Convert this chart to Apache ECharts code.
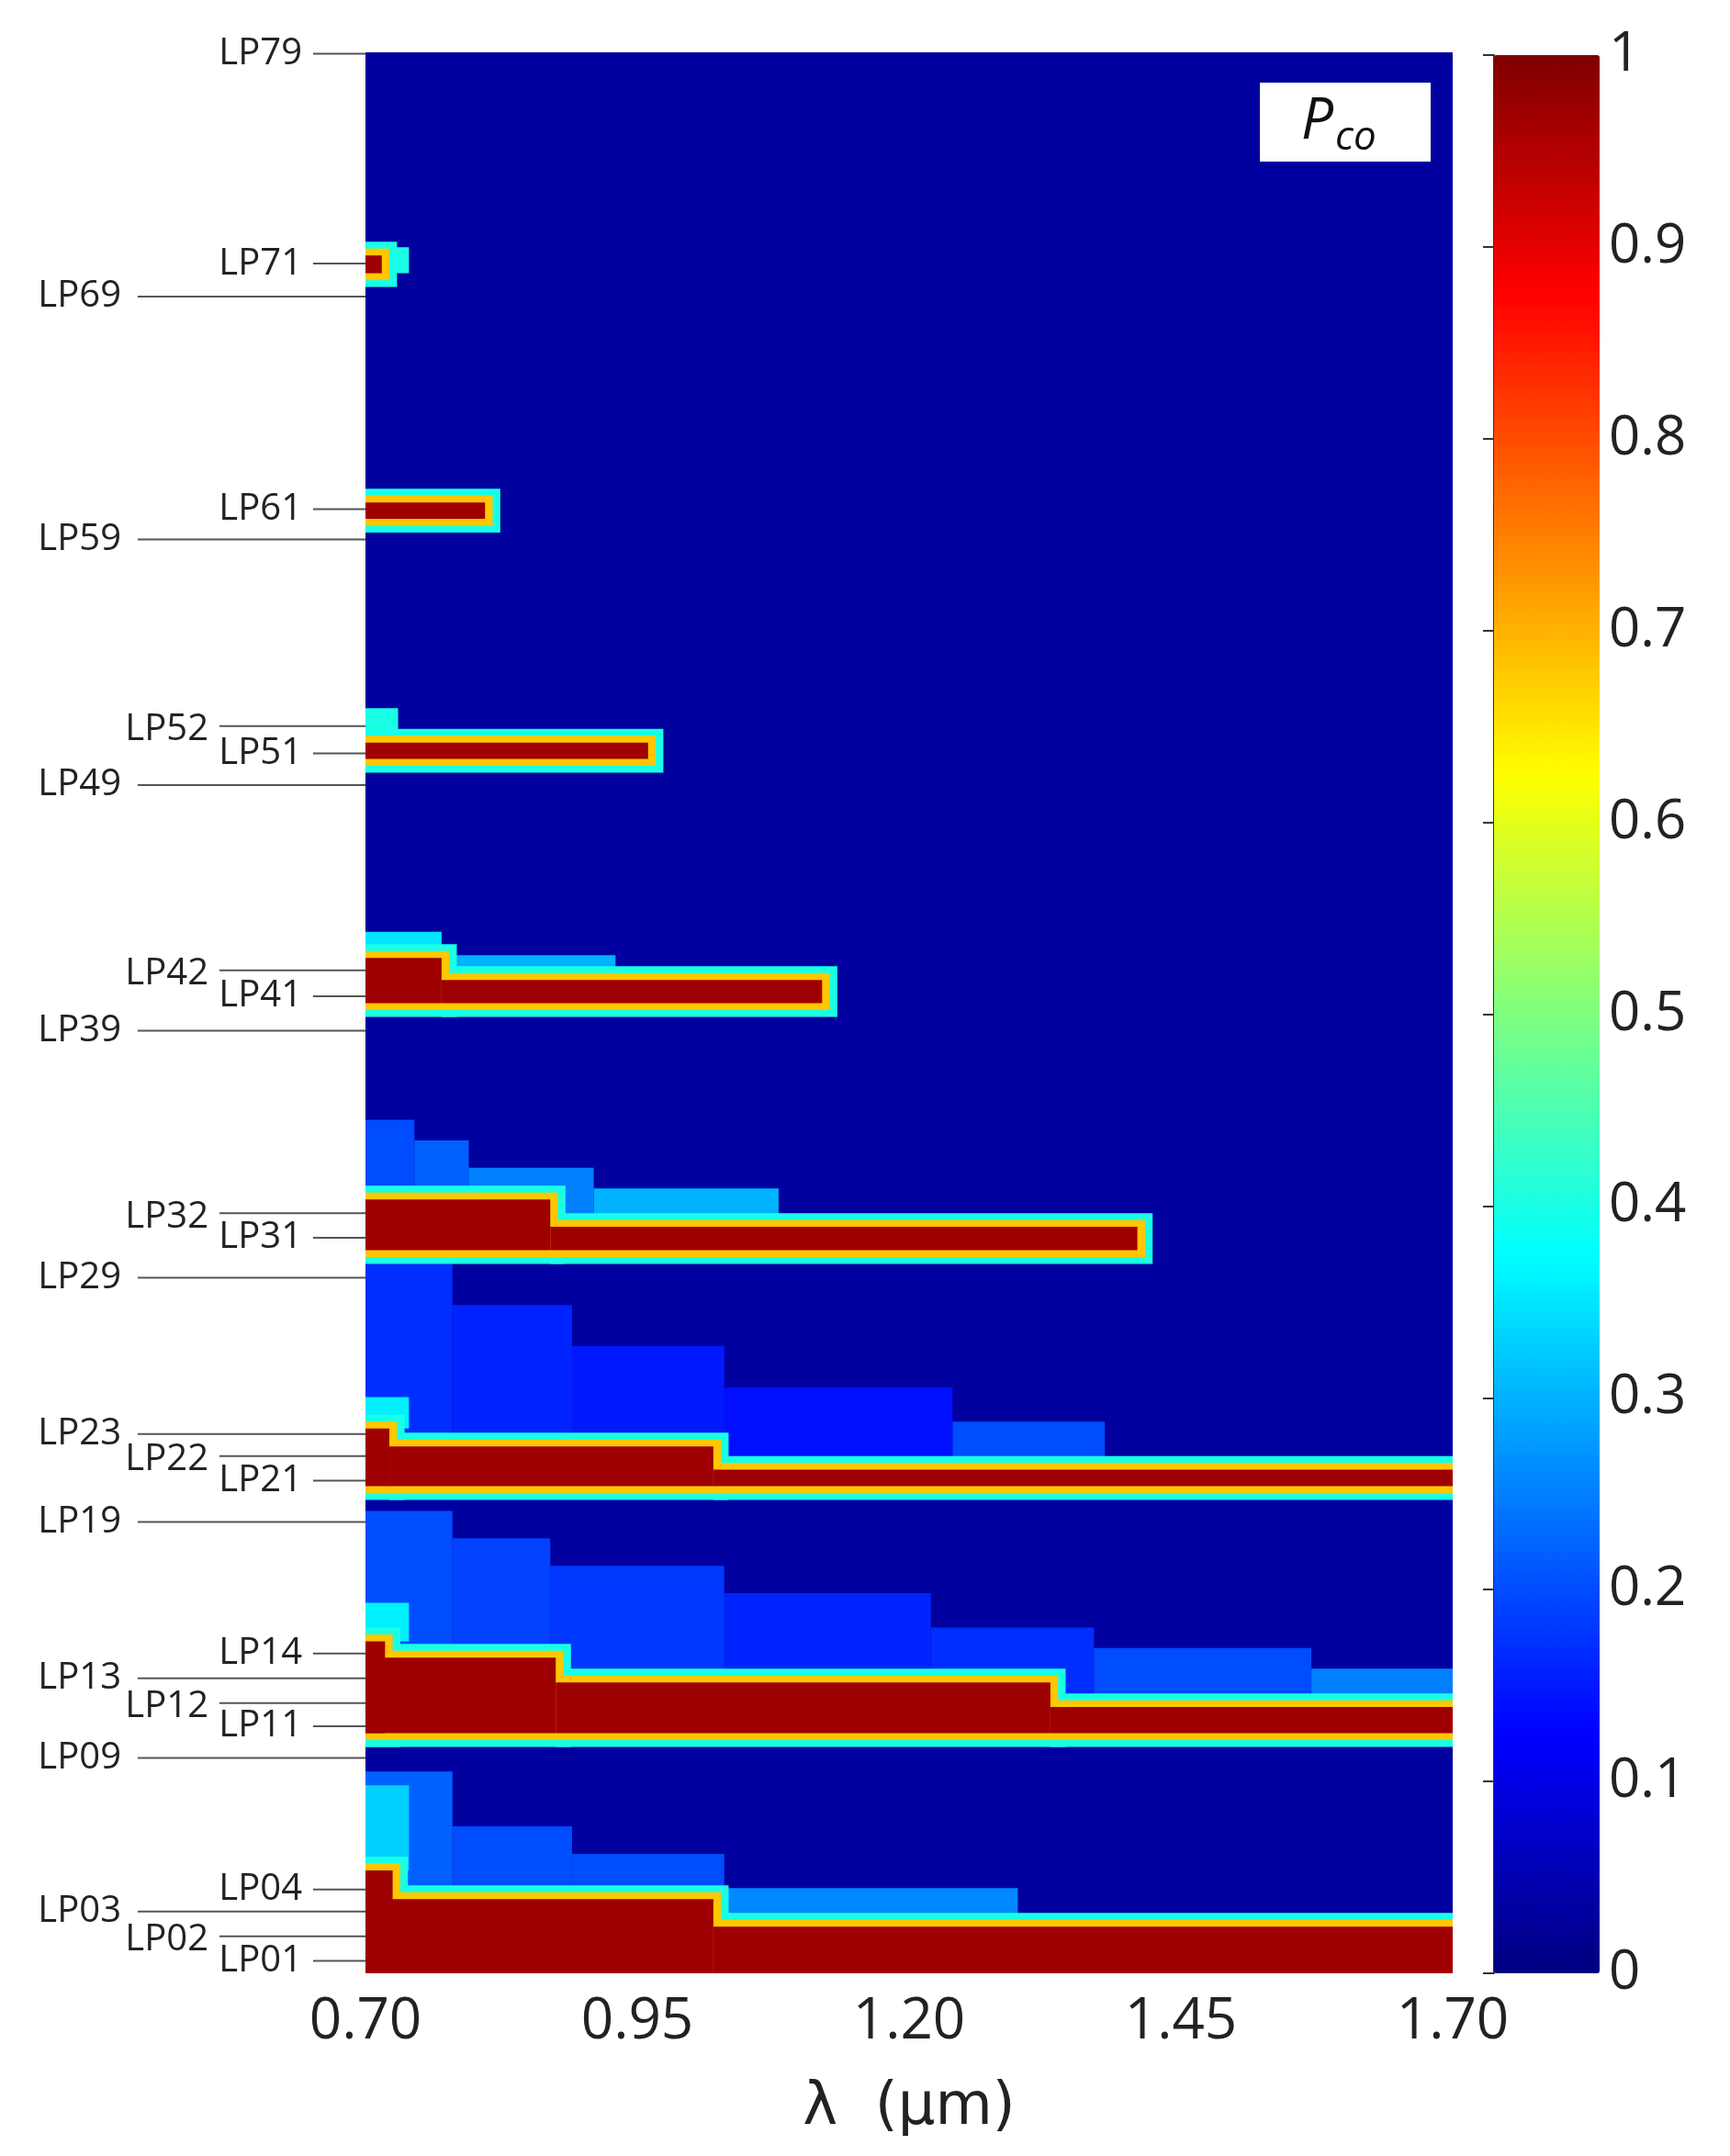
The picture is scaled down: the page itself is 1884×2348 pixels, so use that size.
<!DOCTYPE html>
<html>
<head>
<meta charset="utf-8">
<script src="https://cdn.jsdelivr.net/npm/echarts@6/dist/echarts.min.js"></script>
<style>
  html, body { margin: 0; padding: 0; background: #fff; }
  #main { width: 1884px; height: 2348px; }
</style>
</head>
<body>
<div id="main"></div>
<script>
// wavelength ticks
var xTicks = [0.70, 0.95, 1.20, 1.45, 1.70];
// mode labels and their position on the vertical scale (0 = bottom, 1400 = top)
var modeNames = ['LP79', 'LP71', 'LP69', 'LP61', 'LP59', 'LP52', 'LP51', 'LP49', 'LP42', 'LP41', 'LP39',
    'LP32', 'LP31', 'LP29', 'LP23', 'LP22', 'LP21', 'LP19', 'LP14', 'LP13', 'LP12', 'LP11', 'LP09',
    'LP04', 'LP03', 'LP02', 'LP01'];
var modePos = [1399, 1246, 1222, 1067, 1045, 909, 889, 866, 731, 712, 687,
    554, 536, 507, 393, 377, 359, 329, 233, 215, 197, 180, 157,
    61, 45, 27, 9];
// label column: 0 next to axis, 1 middle, 2 far left
var modeCol = [0, 0, 2, 0, 2, 1, 0, 2, 1, 0, 2,
    1, 0, 2, 2, 1, 0, 2, 0, 2, 1, 0, 2,
    0, 2, 1, 0];

// regions of weak coupling (halo): [uBottom, uTop, lambdaStart, lambdaEnd, Pco]
var haloBands = [
    [0, 1400, 0.70, 1.70, 0.03],
    // LP0x group
    [54, 147, 0.70, 0.78, 0.22], [54, 107, 0.78, 0.89, 0.2], [54, 87, 0.89, 1.03, 0.2],
    [34, 62, 1.03, 1.30, 0.26], [75, 137, 0.70, 0.74, 0.33],
    // LP1x group
    [175, 337, 0.70, 0.78, 0.2], [175, 317, 0.78, 0.87, 0.19], [175, 297, 0.87, 1.03, 0.18],
    [175, 277, 1.03, 1.22, 0.16], [175, 252, 1.22, 1.37, 0.17], [175, 237, 1.37, 1.57, 0.2],
    [175, 222, 1.57, 1.70, 0.25], [242, 270, 0.70, 0.74, 0.36],
    // LP2x group
    [355, 517, 0.70, 0.78, 0.17], [355, 487, 0.78, 0.89, 0.16], [355, 457, 0.89, 1.03, 0.15],
    [355, 427, 1.03, 1.24, 0.14], [355, 402, 1.24, 1.38, 0.2], [397, 420, 0.70, 0.74, 0.36],
    // LP3x group
    [527, 622, 0.70, 0.745, 0.2], [527, 607, 0.745, 0.795, 0.22], [527, 587, 0.795, 0.91, 0.25],
    [527, 572, 0.91, 1.08, 0.3],
    // LP4x group
    [707, 759, 0.70, 0.77, 0.35], [707, 742, 0.77, 0.93, 0.3],
    // LP52
    [902, 922, 0.70, 0.73, 0.4], [1239, 1258, 0.70, 0.74, 0.4]
];
// strongly coupled cores: [uBottom, uTop, lambdaStart, lambdaEnd]
var coreBands = [
    [0, 54, 0.70, 1.02], [0, 75, 0.70, 0.725], [0, 34, 1.02, 1.70],
    [175, 230, 0.70, 0.875], [175, 242, 0.70, 0.718], [175, 212, 0.875, 1.33], [175, 194, 1.33, 1.70],
    [355, 384, 0.722, 1.02], [355, 397, 0.70, 0.722], [355, 367, 1.02, 1.70],
    [527, 564, 0.70, 0.87], [527, 544, 0.87, 1.41],
    [707, 740, 0.70, 0.77], [707, 724, 0.77, 1.12],
    [885, 897, 0.70, 0.96],
    [1060, 1072, 0.70, 0.81],
    [1239, 1252, 0.70, 0.715]
];

var rects = haloBands.slice();
coreBands.forEach(function (b) {
    rects.push([b[0] - 10, b[1] + 10, b[2], b[3] + 0.014, 0.4]);
    rects.push([b[0] - 5, b[1] + 5, b[2], b[3] + 0.007, 0.68]);
    rects.push([b[0], b[1], b[2], b[3], 0.97]);
});
rects.sort(function (a, b) { return a[4] - b[4]; });

var chart = echarts.init(document.getElementById('main'));
var option = {
    backgroundColor: '#fff',
    animation: false,
    grid: [
        { left: 398, right: 302, top: 57, bottom: 199 },
        { left: 1627, width: 115, top: 60, height: 2089 }
    ],
    xAxis: [{
        type: 'value', gridIndex: 0, min: 0.7, max: 1.7,
        name: 'λ  (μm)', nameLocation: 'middle', nameGap: 115,
        nameTextStyle: { fontSize: 64, color: '#222', fontFamily: 'DejaVu Sans' },
        axisLine: { show: false }, axisTick: { show: false }, splitLine: { show: false },
        axisLabel: {
            customValues: xTicks, fontSize: 62, color: '#222', margin: 22,
            fontFamily: 'Open Sans',
            formatter: function (v) { return v.toFixed(2); }
        }
    }, {
        type: 'value', gridIndex: 1, show: false, min: 0, max: 1
    }],
    yAxis: [{
        type: 'value', gridIndex: 0, min: 0, max: 1400, show: false
    }, {
        type: 'value', gridIndex: 1, min: 0, max: 1, interval: 0.1, position: 'right',
        axisLine: { show: true, lineStyle: { color: '#333', width: 2 } },
        axisTick: { show: true, inside: true, length: 12, lineStyle: { color: '#333', width: 2 } },
        splitLine: { show: false },
        axisLabel: {
            fontSize: 60, color: '#222', margin: 10, fontFamily: 'Open Sans',
            formatter: function (v) { return (v === 0 || v === 1) ? String(v) : v.toFixed(1); }
        }
    }],
    visualMap: {
        type: 'continuous', min: 0, max: 1, dimension: 4, seriesIndex: 0,
        calculable: false, text: null, showLabel: false,
        left: 1627, top: 60, itemWidth: 115, itemHeight: 2089, padding: 0,
        inRange: { color: ['#00007f', '#0000ff', '#007fff', '#00ffff', '#7fff7f', '#ffff00', '#ff7f00', '#ff0000', '#7f0000'] }
    },
    series: [{
        type: 'custom',
        xAxisIndex: 0, yAxisIndex: 0,
        clip: true,
        renderItem: function (params, api) {
            var p0 = api.coord([api.value(2), api.value(1)]);
            var p1 = api.coord([api.value(3), api.value(0)]);
            return {
                type: 'rect',
                shape: { x: p0[0], y: p0[1], width: p1[0] - p0[0], height: p1[1] - p0[1] },
                style: { fill: api.visual('color') }
            };
        },
        data: rects
    }]
};
chart.setOption(option);

// mode labels at the left
var textRight = [329, 227, 132];
var lineStart = [341, 239, 150];
var gfx = [];
modeNames.forEach(function (name, i) {
    var p = chart.convertToPixel({ xAxisIndex: 0, yAxisIndex: 0 }, [0.7, modePos[i]]);
    var c = modeCol[i];
    gfx.push({
        type: 'line', z: 100, shape: { x1: lineStart[c], y1: p[1], x2: p[0], y2: p[1] },
        style: { stroke: '#555', lineWidth: 2 }
    });
    gfx.push({
        type: 'text', z: 100, x: textRight[c], y: p[1] + (c === 1 ? 4 : 0),
        style: { text: name, fill: '#222', font: '40px "Open Sans"', align: 'right', verticalAlign: 'middle' }
    });
});
// Pco box
gfx.push({ type: 'rect', z: 100, shape: { x: 1372, y: 90, width: 186, height: 86 }, style: { fill: '#fff' } });
gfx.push({ type: 'text', z: 101, x: 1452, y: 133,
    style: { text: 'P', font: 'italic 62px "Open Sans"', fill: '#111', align: 'right', verticalAlign: 'middle' } });
gfx.push({ type: 'text', z: 101, x: 1454, y: 150,
    style: { text: 'co', font: 'italic 44px "Open Sans"', fill: '#111', align: 'left', verticalAlign: 'middle' } });
chart.setOption({ graphic: gfx });
</script>
</body>
</html>
